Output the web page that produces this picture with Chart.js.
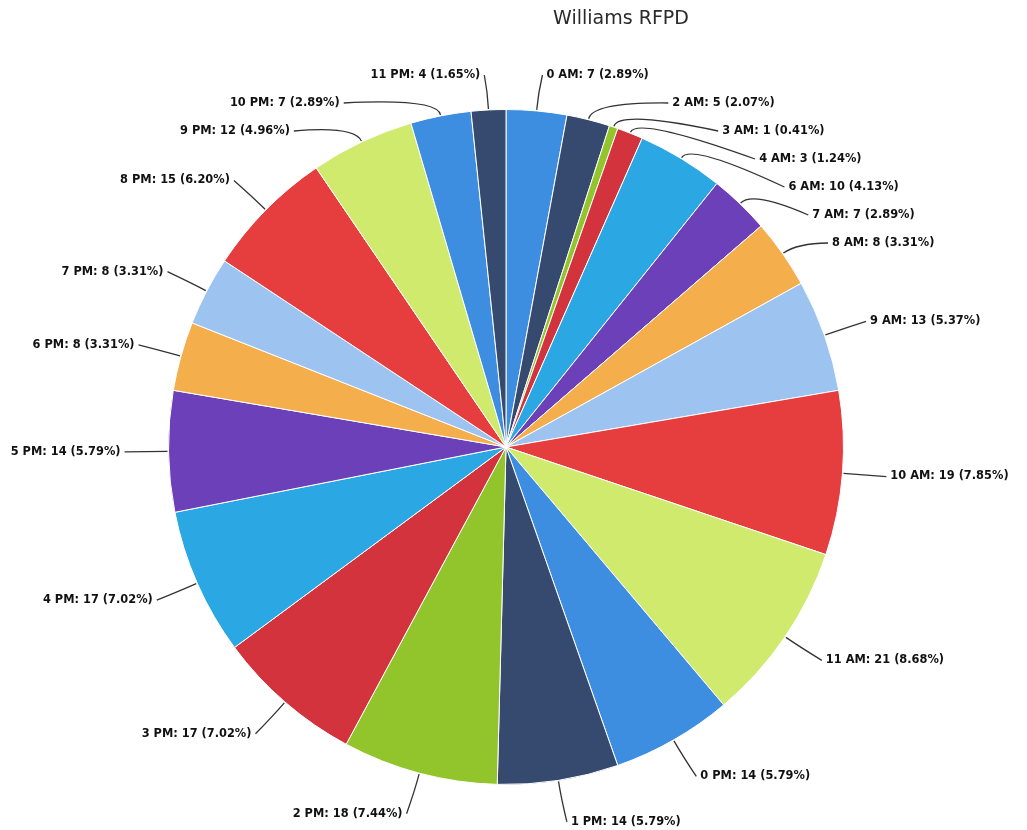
<!DOCTYPE html>
<html>
<head>
<meta charset="utf-8">
<title>Williams RFPD</title>
<script src="https://cdn.jsdelivr.net/npm/chart.js@4.4.1/dist/chart.umd.min.js"></script>
<style>
    html, body { margin: 0; padding: 0; background: #fff; }
    #wrap { position: relative; width: 1027px; height: 830px; }
    #title {
        position: absolute; top: 6px; left: 621px; transform: translateX(-50%);
        font-family: "DejaVu Sans", sans-serif; font-size: 19px; color: #2a2a2a;
        white-space: nowrap;
    }
</style>
</head>
<body>
<div id="wrap">
    <canvas id="pie" width="1027" height="830"></canvas>
    <div id="title">Williams RFPD</div>
</div>
<script>
// Data
const hours = ['0 AM', '2 AM', '3 AM', '4 AM', '6 AM', '7 AM', '8 AM', '9 AM', '10 AM', '11 AM',
               '0 PM', '1 PM', '2 PM', '3 PM', '4 PM', '5 PM', '6 PM', '7 PM', '8 PM', '9 PM',
               '10 PM', '11 PM'];
const calls = [7, 5, 1, 3, 10, 7, 8, 13, 19, 21,
               14, 14, 18, 17, 17, 14, 8, 8, 15, 12,
               7, 4];
const palette = ['#3d8ee0', '#36496f', '#92c52c', '#d3333c', '#2ba7e4',
                 '#6b40b8', '#f5ae4c', '#9dc3f1', '#e63d3f', '#cfea6c'];

const total = calls.reduce((a, b) => a + b, 0);

function labelText(i) {
    return hours[i] + ': ' + calls[i] + ' (' + (calls[i] / total * 100).toFixed(2) + '%)';
}

// Outside labels with leader lines
const outLabels = {
    id: 'outLabels',
    afterDatasetsDraw(chart) {
        const ctx = chart.ctx;
        const arcs = chart.getDatasetMeta(0).data;
        const gap = 28, minY = 75, extra = 42;
        const items = arcs.map((arc, i) => {
            const mid = (arc.startAngle + arc.endAngle) / 2;
            const R = arc.outerRadius;
            const rl = R + extra;
            return {
                i, mid, R, rl, cx: arc.x, cy: arc.y,
                right: Math.cos(mid) >= 0,
                nx: arc.x + rl * Math.cos(mid),
                ny: arc.y + rl * Math.sin(mid)
            };
        });
        [true, false].forEach(side => {
            const list = items.filter(d => d.right === side).sort((a, b) => a.ny - b.ny);
            let prev = -Infinity;
            list.forEach(d => {
                d.y = Math.max(d.ny, minY, prev + gap);
                prev = d.y;
                if (Math.abs(d.y - d.ny) > 10) {
                    const dy = d.y - d.cy;
                    const dx = Math.sqrt(Math.max(d.rl * d.rl - dy * dy, 0));
                    d.x = d.cx + (side ? dx : -dx);
                } else {
                    d.x = d.nx;
                }
            });
        });

        ctx.save();
        ctx.strokeStyle = '#333';
        ctx.lineWidth = 1.3;
        ctx.fillStyle = '#111';
        ctx.font = 'bold 11.4px "DejaVu Sans", sans-serif';
        ctx.textBaseline = 'middle';
        items.forEach(d => {
            const sx = d.cx + (d.R + 1) * Math.cos(d.mid);
            const sy = d.cy + (d.R + 1) * Math.sin(d.mid);
            const kx = d.cx + (d.R + 18) * Math.cos(d.mid);
            const ky = d.cy + (d.R + 18) * Math.sin(d.mid);
            const ex = d.x + (d.right ? 2 : -2);
            ctx.beginPath();
            ctx.moveTo(sx, sy);
            ctx.quadraticCurveTo(kx, ky, ex, d.y);
            ctx.stroke();
            ctx.textAlign = d.right ? 'left' : 'right';
            ctx.fillText(labelText(d.i), d.x + (d.right ? 6 : -6), d.y);
        });
        ctx.restore();
    }
};

new Chart(document.getElementById('pie'), {
    type: 'pie',
    data: {
        labels: hours,
        datasets: [{
            data: calls,
            backgroundColor: calls.map((v, i) => palette[i % palette.length]),
            borderColor: '#ffffff',
            borderWidth: 1
        }]
    },
    options: {
        responsive: false,
        animation: false,
        layout: {
            padding: { left: 168, right: 183, top: 109, bottom: 45 }
        },
        plugins: {
            legend: { display: false },
            tooltip: { enabled: false },
            title: { display: false }
        }
    },
    plugins: [outLabels]
});
</script>
</body>
</html>
